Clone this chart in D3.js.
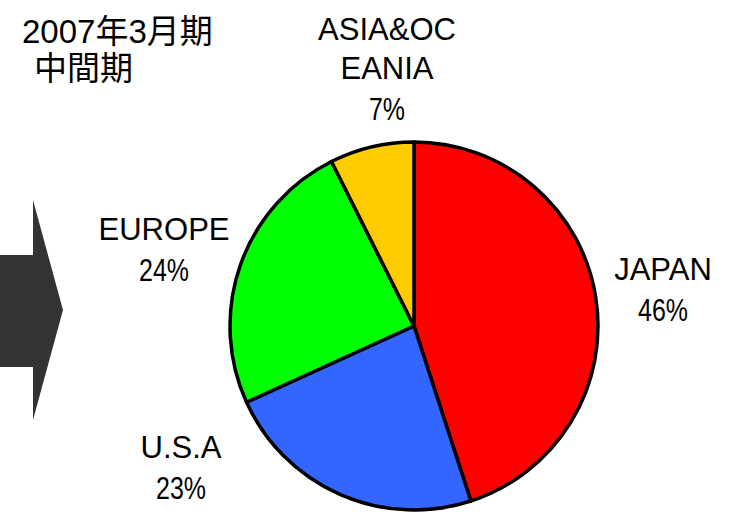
<!DOCTYPE html>
<html>
<head>
<meta charset="utf-8">
<script src="https://cdn.jsdelivr.net/npm/d3@7"></script>
<style>
    body { margin: 0; background: #fff; }
    svg text { font-family: "Liberation Sans", Arial, "Noto Sans CJK JP", sans-serif; fill: #000; }
</style>
</head>
<body>
<div id="chart"></div>
<script>
// data ---
var regions = ["JAPAN", "U.S.A", "EUROPE", "ASIA&OCEANIA"];
var nameLines = [["JAPAN"], ["U.S.A"], ["EUROPE"], ["ASIA&OC", "EANIA"]];
var shares = [45.0, 23.2, 24.4, 7.4];
var shareLabels = ["46%", "23%", "24%", "7%"];
var colors = ["#ff0000", "#3366ff", "#00ff00", "#ffcc00"];
var titleLines = ["2007年3月期", "中間期"];

// layout ---
var width = 729, height = 516;
var cx = 414, cy = 326, radius = 184;
// label anchor (centre of first line baseline) relative to pie centre
var labelAnchor = [[249, -46], [-233, 132], [-250, -86], [-27, -286]];
var lineGap = 39;

var svg = d3.select("#chart").append("svg")
    .attr("width", width)
    .attr("height", height);

//  Arrow ---
var arrow = [[0, 255], [33, 255], [33, 200], [63, 310], [33, 420], [33, 367], [0, 367]];
svg.append("path")
    .attr("d", d3.line()(arrow) + "Z")
    .attr("fill", "#333333");

//  Title ---
svg.append("text")
    .attr("x", 22)
    .attr("y", 43)
    .style("font-size", "33px")
    .text(titleLines[0]);
svg.append("text")
    .attr("x", 34)
    .attr("y", 80)
    .style("font-size", "33px")
    .text(titleLines[1]);

//  Pie ---
var pie = d3.pie().sort(null).value(function (d) { return d; });
var arc = d3.arc().innerRadius(0).outerRadius(radius);

var g = svg.append("g")
    .attr("transform", "translate(" + cx + "," + cy + ")");

g.selectAll("path.slice")
    .data(pie(shares))
    .enter().append("path")
    .attr("class", "slice")
    .attr("d", arc)
    .attr("fill", function (d, i) { return colors[i]; })
    .attr("stroke", "#000")
    .attr("stroke-width", 3.5)
    .attr("stroke-linejoin", "round");

//  Labels ---
var labels = g.selectAll("g.label")
    .data(regions)
    .enter().append("g")
    .attr("class", "label")
    .attr("transform", function (d, i) {
        return "translate(" + labelAnchor[i][0] + "," + labelAnchor[i][1] + ")";
    });

labels.each(function (d, i) {
    var el = d3.select(this);
    var lines = nameLines[i];
    lines.forEach(function (line, j) {
        el.append("text")
            .attr("text-anchor", "middle")
            .attr("transform", "translate(0," + (j * lineGap) + ") scale(0.97,1)")
            .style("font-size", "32px")
            .text(line);
    });
    el.append("text")
        .attr("text-anchor", "middle")
        .attr("transform", "translate(0," + (lines.length * lineGap + 2) + ") scale(0.78,1)")
        .style("font-size", "32px")
        .text(shareLabels[i]);
});
</script>
</body>
</html>
